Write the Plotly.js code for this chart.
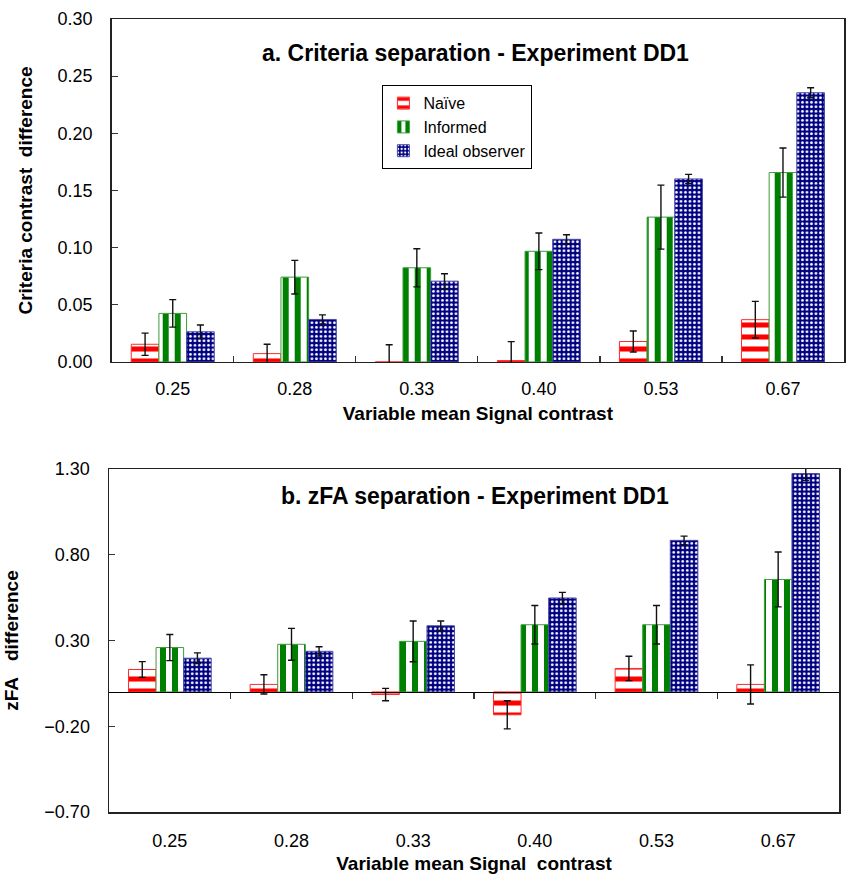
<!DOCTYPE html>
<html>
<head>
<meta charset="utf-8">
<script src="https://cdn.plot.ly/plotly-3.0.1.min.js"></script>
<style>html,body{margin:0;padding:0;background:#fff;}#chart{width:846px;height:874px;}</style>
</head>
<body>
<div id="chart"></div>
<script>
// ---- data ----
const categories = ['0.25', '0.28', '0.33', '0.40', '0.53', '0.67'];
const seriesNames = ['Naïve', 'Informed', 'Ideal observer'];

// Panel a: Criteria contrast difference
const critNaive       = [0.0155, 0.0073, 0.0000, 0.0012, 0.0179, 0.0370];
const critNaiveErr    = [0.0097, 0.0082, 0.0150, 0.0166, 0.0092, 0.0160];
const critInformed    = [0.0425, 0.0742, 0.0824, 0.0968, 0.1267, 0.1657];
const critInformedErr = [0.0120, 0.0147, 0.0167, 0.0160, 0.0280, 0.0215];
const critIdeal       = [0.0264, 0.0372, 0.0707, 0.1073, 0.1601, 0.2355];
const critIdealErr    = [0.0060, 0.0040, 0.0065, 0.0040, 0.0040, 0.0044];

// Panel b: zFA difference
const zfaNaive       = [0.131, 0.044, -0.015, -0.133, 0.137, 0.044];
const zfaNaiveErr    = [0.046, 0.056, 0.036, 0.082, 0.071, 0.114];
const zfaInformed    = [0.259, 0.278, 0.295, 0.392, 0.392, 0.656];
const zfaInformedErr = [0.076, 0.093, 0.119, 0.112, 0.112, 0.160];
const zfaIdeal       = [0.197, 0.237, 0.386, 0.548, 0.884, 1.274];
const zfaIdealErr    = [0.031, 0.027, 0.028, 0.033, 0.025, 0.040];

const critTicks = [0, 0.05, 0.10, 0.15, 0.20, 0.25, 0.30];
const zfaTicks = [-0.70, -0.20, 0.30, 0.80, 1.30];

// ---- styles ----
const FONT = 'Liberation Sans, Arial, Helvetica, sans-serif';
const styles = [
  {color: '#ff0000', line: '#ff2a2a', pattern: {shape: '-', fgcolor: '#ff0000', bgcolor: '#ffffff', size: 12, solidity: 0.42}},
  {color: '#008000', line: '#3c9c3c', pattern: {shape: '|', fgcolor: '#008000', bgcolor: '#ffffff', size: 12, solidity: 0.5}},
  {color: '#000080', line: '#4a4aa8', pattern: {shape: '.', fgcolor: '#ffffff', bgcolor: '#000080', size: 4.5, solidity: 0.3}}
];

function barTrace(i, y, err, xa, ya, showLegend) {
  const s = styles[i];
  return {
    type: 'bar', name: seriesNames[i], x: categories, y: y,
    xaxis: xa, yaxis: ya, showlegend: showLegend,
    marker: {color: s.color, line: {color: s.line, width: 1}, pattern: s.pattern},
    error_y: {type: 'data', array: err, visible: true, color: '#111111', thickness: 1.4, width: 3.5},
    hoverinfo: 'x+y+name'
  };
}

const traces = [
  barTrace(0, critNaive, critNaiveErr, 'x', 'y', true),
  barTrace(1, critInformed, critInformedErr, 'x', 'y', true),
  barTrace(2, critIdeal, critIdealErr, 'x', 'y', true),
  barTrace(0, zfaNaive, zfaNaiveErr, 'x2', 'y2', false),
  barTrace(1, zfaInformed, zfaInformedErr, 'x2', 'y2', false),
  barTrace(2, zfaIdeal, zfaIdealErr, 'x2', 'y2', false),
  {type: 'scatter', x: [], y: [], xaxis: 'x3', yaxis: 'y2', showlegend: false, hoverinfo: 'skip'}
];

const y2Domain = [0, 0.4325];
const y2Range = [zfaTicks[0], zfaTicks[zfaTicks.length - 1]];
const zeroPos = y2Domain[0] + (0 - y2Range[0]) / (y2Range[1] - y2Range[0]) * (y2Domain[1] - y2Domain[0]);
const catBoundaries = categories.slice(1).map((c, i) => i + 0.5);

const tickFont = {family: FONT, size: 18, color: '#000'};
const axTitleFont = {family: FONT, size: 19, color: '#000', weight: 'bold'};

const layout = {
  width: 846, height: 874,
  margin: {l: 109, r: 2, t: 19, b: 62},
  paper_bgcolor: '#ffffff', plot_bgcolor: '#ffffff',
  barmode: 'group', bargap: 0.32, bargroupgap: 0,
  font: {family: FONT, color: '#000'},
  showlegend: true,
  legend: {
    x: 0.372, y: 0.9165, xanchor: 'left', yanchor: 'top',
    bgcolor: '#ffffff', bordercolor: '#000000', borderwidth: 1,
    font: {family: FONT, size: 16, color: '#000'},
    itemwidth: 30, tracegroupgap: 0
  },
  xaxis: {
    domain: [0.0037, 1], anchor: 'y', type: 'category',
    showline: true, linecolor: '#222', linewidth: 1.5, mirror: true,
    ticks: 'inside', tickson: 'boundaries', ticklen: 6, tickcolor: '#333', tickwidth: 1.2,
    ticklabelstandoff: 10, tickfont: tickFont, showgrid: false, zeroline: false,
    title: {text: 'Variable mean Signal contrast', font: axTitleFont, standoff: 8}
  },
  yaxis: {
    domain: [0.5675, 1], anchor: 'x', range: [0, 0.30], autorange: false,
    tickvals: critTicks, tickformat: '.2f',
    showline: true, linecolor: '#222', linewidth: 1.5, mirror: true,
    ticks: 'inside', ticklen: 6, tickcolor: '#333', tickwidth: 1.2,
    ticklabelstandoff: 14, tickfont: tickFont, showgrid: false, zeroline: false,
    title: {text: 'Criteria contrast\u00a0\u00a0difference', font: axTitleFont, standoff: 20}
  },
  xaxis2: {
    domain: [0, 0.9932], anchor: 'y2', type: 'category',
    showline: true, linecolor: '#222', linewidth: 1.5, mirror: true,
    ticks: '', ticklabelstandoff: 12, tickfont: tickFont, showgrid: false, zeroline: false,
    title: {text: 'Variable mean Signal\u00a0\u00a0contrast', font: axTitleFont, standoff: 8}
  },
  xaxis3: {
    overlaying: 'x2', anchor: 'free', position: zeroPos,
    domain: [0, 0.9932],
    range: [-0.5, categories.length - 0.5], autorange: false,
    tickvals: catBoundaries, ticks: 'outside', ticklen: 6, tickcolor: '#333', tickwidth: 1.2,
    showticklabels: false, showline: true, linecolor: '#000', linewidth: 1.5,
    showgrid: false, zeroline: false
  },
  yaxis2: {
    domain: y2Domain, anchor: 'x2', range: y2Range, autorange: false,
    tickvals: zfaTicks, tickformat: '.2f',
    showline: true, linecolor: '#222', linewidth: 1.5, mirror: true,
    ticks: 'inside', ticklen: 6, tickcolor: '#333', tickwidth: 1.2,
    ticklabelstandoff: 14, tickfont: tickFont, showgrid: false, zeroline: false,
    title: {text: 'zFA\u00a0\u00a0\u00a0difference', font: axTitleFont, standoff: 20}
  },
  annotations: [
    {text: 'a. Criteria separation - Experiment DD1', xref: 'x domain', yref: 'y domain',
     x: 0.497, y: 0.90, xanchor: 'center', yanchor: 'middle', showarrow: false,
     font: {family: FONT, size: 23, color: '#000', weight: 'bold'}},
    {text: 'b. zFA separation - Experiment DD1', xref: 'x2 domain', yref: 'y2 domain',
     x: 0.501, y: 0.921, xanchor: 'center', yanchor: 'middle', showarrow: false,
     font: {family: FONT, size: 23, color: '#000', weight: 'bold'}}
  ]
};

Plotly.newPlot('chart', traces, layout, {displayModeBar: false, staticPlot: true});
</script>
</body>
</html>
